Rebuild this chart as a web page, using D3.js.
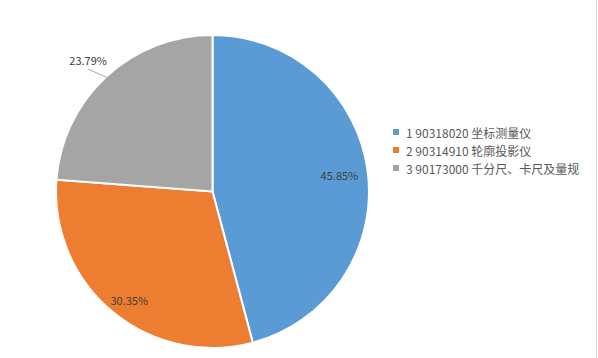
<!DOCTYPE html>
<html><head><meta charset="utf-8">
<script src="https://cdn.jsdelivr.net/npm/d3@7"></script>
<style>body{margin:0;background:#fff}svg{display:block}</style>
</head><body>
<svg id="chart" width="598" height="358"></svg>
<script>
const categories = ["1 90318020 坐标测量仪", "2 90314910 轮廓投影仪", "3 90173000 千分尺、卡尺及量规"];
const values = [45.85, 30.35, 23.79];
const labels = ["45.85%", "30.35%", "23.79%"];
const colors = ["#5B9BD5", "#ED7D31", "#A5A5A5"];

const svg = d3.select("#chart");
const cx = 212.5, cy = 191.5, R = 156.5;
const font = "'Noto Sans CJK SC', 'Noto Sans', sans-serif";

svg.append("line").attr("x1", 596.5).attr("x2", 596.5).attr("y1", 0).attr("y2", 358)
  .attr("stroke", "#d9d9d9").attr("stroke-width", 1);

const pie = d3.pie().sort(null).value(d => d);
const arcs = pie(values);
const arc = d3.arc().innerRadius(0).outerRadius(R);
const g = svg.append("g").attr("transform", `translate(${cx},${cy})`);
g.selectAll("path").data(arcs).enter().append("path")
  .attr("d", arc).attr("fill", (d, i) => colors[i])
  .attr("stroke", "#fff").attr("stroke-width", 2);

const labelR = [128, 137, null];
const labelDa = [0, -0.04, 0];
arcs.forEach((d, i) => {
  const a = (d.startAngle + d.endAngle) / 2 + labelDa[i];
  if (labelR[i]) {
    g.append("text").attr("x", Math.sin(a) * labelR[i]).attr("y", -Math.cos(a) * labelR[i])
      .attr("text-anchor", "middle").attr("dominant-baseline", "central")
      .attr("font-family", font).attr("font-size", 11).attr("fill", "#404040").text(labels[i]);
  } else {
    const p1 = [Math.sin(a) * (R - 1), -Math.cos(a) * (R - 1)];
    const p2 = [88 - cx, 69 - cy];
    const a2 = Math.atan2(p2[0], -p2[1]);
    const r2 = R + 18;
    const q = [Math.sin(a2) * r2, -Math.cos(a2) * r2];
    g.append("line").attr("x1", p1[0]).attr("y1", p1[1]).attr("x2", q[0]).attr("y2", q[1])
      .attr("stroke", "#a6a6a6").attr("stroke-width", 1);
    g.append("text").attr("x", q[0]).attr("y", q[1] - 9)
      .attr("text-anchor", "middle").attr("dominant-baseline", "central")
      .attr("font-family", font).attr("font-size", 11).attr("fill", "#404040").text(labels[i]);
  }
});

const leg = svg.append("g").attr("transform", "translate(393,132)");
categories.forEach((c, i) => {
  const row = leg.append("g").attr("transform", `translate(0,${i * 18})`);
  row.append("rect").attr("x", 0).attr("y", -3).attr("width", 6).attr("height", 6).attr("fill", colors[i]);
  row.append("text").attr("x", 13).attr("y", 0).attr("dominant-baseline", "central")
    .attr("font-family", font).attr("font-size", 12).attr("fill", "#595959").text(c);
});
</script>
</body></html>
